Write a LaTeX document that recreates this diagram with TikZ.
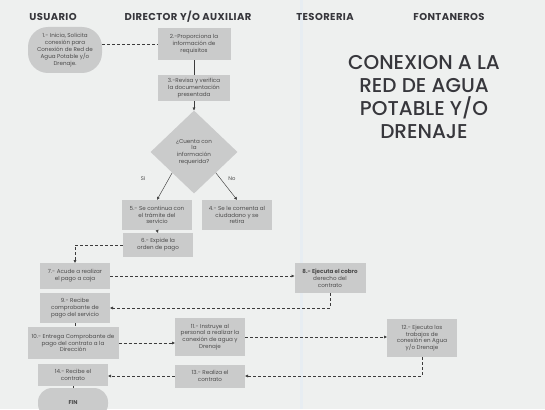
\documentclass[tikz,border=0pt]{standalone}
\usepackage{fontspec}
\setmainfont{Poppins}
\newfontfamily\medfont{Poppins Medium}
\usetikzlibrary{shapes.geometric,arrows.meta}
\definecolor{bgc}{RGB}{238,240,239}
\definecolor{boxc}{RGB}{202,203,203}
\definecolor{txtc}{RGB}{75,75,75}
\definecolor{headc}{RGB}{55,55,60}
\definecolor{linec}{RGB}{60,60,60}
\definecolor{lanec}{RGB}{231,237,242}
\tikzset{
  stepbox/.style={fill=boxc, draw=none, text=txtc, align=center, inner sep=1pt,
    font=\fontsize{5.6}{6.8}\selectfont},
  pill/.style={stepbox, rounded corners=14pt},
  decis/.style={diamond, fill=boxc, text=txtc, align=center, inner sep=0pt,
    font=\fontsize{5.6}{6.8}\selectfont, aspect=1.05},
  lanehead/.style={text=headc, font=\fontsize{10}{11}\selectfont\bfseries\addfontfeatures{LetterSpace=4}},
  conn/.style={draw=linec, line width=0.55pt, densely dashed},
  solidconn/.style={draw=linec, line width=0.45pt},
  tip/.style={-{Triangle[length=2.8pt,width=2.8pt]}},
  lbl/.style={text=txtc, font=\fontsize{5.3}{6}\selectfont}
}
\begin{document}
\begin{tikzpicture}[x=1pt,y=-1pt]
\useasboundingbox (0,0) rectangle (545,409);
\clip (0,0) rectangle (545,409);
\fill[bgc] (0,0) rectangle (545,409);
\fill[lanec] (300,0) rectangle (303,409);

% headers
\node[lanehead] (hu) at (53,17) {USUARIO};
\node[lanehead] (hd) at (188,17) {DIRECTOR Y/O AUXILIAR};
\node[lanehead] (ht) at (325,17) {TESORERIA};
\node[lanehead] (hf) at (449,17) {FONTANEROS};

% title
\node[text=headc, align=center, font=\medfont\fontsize{20}{23}\selectfont] (title) at (424,97)
  {CONEXION A LA\\RED DE AGUA\\POTABLE Y/O\\DRENAJE};

% nodes
\node[pill, minimum width=74pt, minimum height=46pt, rounded corners=20pt] (n1) at (65,50)
  {1.- Inicia, Solicita\\conexión para\\Conexión de Red de\\Agua Potable y/o\\Drenaje.};
\node[stepbox, minimum width=73pt, minimum height=32pt] (n2) at (194,44)
  {2.-Proporciona la\\información de\\requisitos};
\node[stepbox, minimum width=72pt, minimum height=26pt] (n3) at (194,88)
  {3.-Revisa y verifica\\la documentación\\presentada};
\node[decis, minimum width=87pt, minimum height=83pt] (d) at (194,152)
  {¿Cuenta con\\la\\información\\requerida?};
\node[stepbox, minimum width=70pt, minimum height=30pt] (n5) at (157,215)
  {5.- Se continua con\\el trámite del\\servicio};
\node[stepbox, minimum width=70pt, minimum height=30pt] (n4) at (237,215)
  {4.- Se le comenta al\\ciudadano y se\\retira};
\node[stepbox, minimum width=70pt, minimum height=24pt] (n6) at (158,245)
  {6.- Expide la\\orden de pago};
\node[stepbox, minimum width=70pt, minimum height=26pt] (n7) at (75,276)
  {7.- Acude a realizar\\el pago a caja};
\node[stepbox, minimum width=71pt, minimum height=30pt] (n8) at (330,278)
  {\textbf{8.- Ejecuta el cobro}\\derecho del\\contrato};
\node[stepbox, minimum width=70pt, minimum height=30pt] (n9) at (75,308)
  {9.- Recibe\\comprobante de\\pago del servicio};
\node[stepbox, minimum width=91pt, minimum height=32pt] (n10) at (73,343)
  {10.- Entrega Comprobante de\\pago del contrato a la\\Dirección};
\node[stepbox, minimum width=70pt, minimum height=38pt] (n11) at (210,337)
  {11.- Instruye al\\personal a realizar la\\conexión de agua y\\Drenaje};
\node[stepbox, minimum width=70pt, minimum height=38pt] (n12) at (422,338)
  {12.- Ejecuta los\\trabajos de\\conexión en Agua\\y/o Drenaje};
\node[stepbox, minimum width=70pt, minimum height=23pt] (n13) at (210,376)
  {13.- Realiza el\\contrato};
\node[stepbox, minimum width=70pt, minimum height=22pt] (n14) at (73,375)
  {14.- Recibe el\\contrato};
\node[pill, minimum width=70pt, minimum height=30pt] (fin) at (73,403)
  {\textbf{FIN}};

% decision labels
\node[lbl] (si) at (143,179) {Si};
\node[lbl] (no) at (232,179) {No};

% connectors
\draw[conn] (n1.east |- n2.west) -- (n2.west);
\draw[solidconn] (n2.south) -- (n3.north);
\draw[solidconn,tip] (n3.south) -- (d.north);
\draw[solidconn,tip] (d.south west) -- (n5.north);
\draw[solidconn,tip] (d.south east) -- (n4.north);
\draw[solidconn,tip] (n5.south) -- (n6.north);
\draw[conn,tip] (n6.west) -| (n7.north);
\draw[conn,tip] (n7.east) -- (n7.east -| n8.west);
\draw[conn,tip] (n8.south) |- (n9.east);
\draw[conn] (n9.south) -- (n9.south |- n10.north);
\draw[conn,tip] (n10.east) -- (n10.east -| n11.west);
\draw[conn,tip] (n11.east) -- (n11.east -| n12.west);
\draw[conn,tip] (n12.south) |- (n13.east);
\draw[conn,tip] (n13.west) -- (n13.west -| n14.east);
\draw[solidconn] (n14.south) -- (fin.north);
\end{tikzpicture}
\end{document}
